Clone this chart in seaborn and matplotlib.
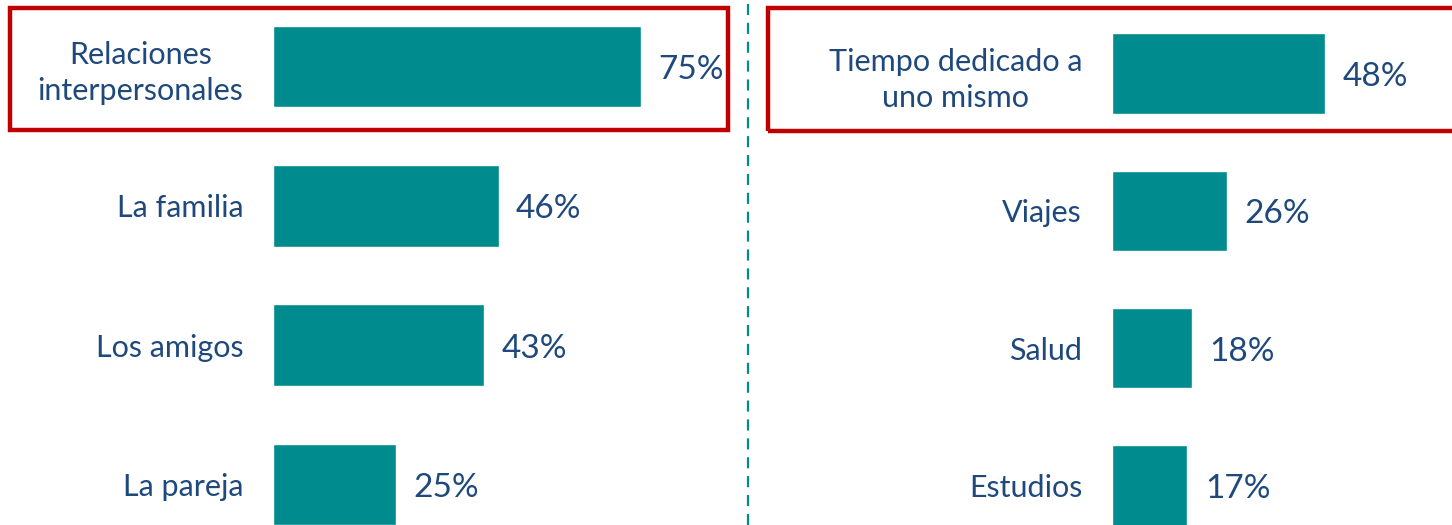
import matplotlib
matplotlib.use('Agg')
import matplotlib.pyplot as plt
import seaborn as sns
import pandas as pd
from matplotlib.patches import Rectangle
from matplotlib.lines import Line2D

# data
left_labels = ['Relaciones\ninterpersonales', 'La familia', 'Los amigos', 'La pareja']
left_values = [75, 46, 43, 25]
right_labels = ['Tiempo dedicado a\nuno mismo', 'Viajes', 'Salud', 'Estudios']
right_values = [48, 26, 18, 17]

bar_color = '#008B8F'
text_color = '#1F497D'
box_color = '#C00000'

sns.set_theme(style='white')
plt.rcParams['font.family'] = ['Lato', 'DejaVu Sans']

W, H = 1452, 525
fig = plt.figure(figsize=(W / 100, H / 100), dpi=100)

# left panel: 4.907 px per percent, right panel: 4.44 px per percent
ax1 = fig.add_axes([273 / W, 0, 80 * 4.907 / W, 1])
ax2 = fig.add_axes([1112 / W, 0, 60 * 4.44 / W, 1])

panels = [
    (ax1, left_labels, left_values, (0, 80), (3.291, -0.477)),
    (ax2, right_labels, right_values, (0, 60), (3.288, -0.535)),
]

for ax, labels, values, xlim, ylim in panels:
    df = pd.DataFrame({'cat': labels, 'val': values})
    sns.barplot(data=df, x='val', y='cat', orient='h', color=bar_color,
                saturation=1, width=0.585, ax=ax)
    ax.set_xlim(*xlim)
    ax.set_ylim(*ylim)
    ax.set_xlabel('')
    ax.set_ylabel('')
    ax.set_xticks([])
    for s in ax.spines.values():
        s.set_visible(False)
    ax.tick_params(axis='y', length=0, pad=21.5)
    for t in ax.get_yticklabels():
        t.set_fontsize(22)
        t.set_color(text_color)
        t.set_ha('right')
        t.set_multialignment('center')
        t.set_linespacing(1.35)
    texts = ax.bar_label(ax.containers[0], labels=[f'{v}%' for v in values],
                         padding=12.5, fontsize=24, color=text_color)
    for t in texts:
        t.xyann = (12.5, -2.5)
    ax.patch.set_alpha(0)

# red highlight boxes around the first row
fig.add_artist(Rectangle((10 / W, 1 - 130 / H), 718 / W, 122 / H,
                         transform=fig.transFigure, fill=False,
                         edgecolor=box_color, linewidth=3.2))
fig.add_artist(Rectangle((768 / W, 1 - 131 / H), 700 / W, 123 / H,
                         transform=fig.transFigure, fill=False,
                         edgecolor=box_color, linewidth=3.2))

# dashed divider
fig.add_artist(Line2D([748 / W, 748 / W], [0, 1], transform=fig.transFigure,
                      color=bar_color, linewidth=1.6, linestyle=(0, (5, 3.5))))

fig.savefig('out.png', dpi=100)
